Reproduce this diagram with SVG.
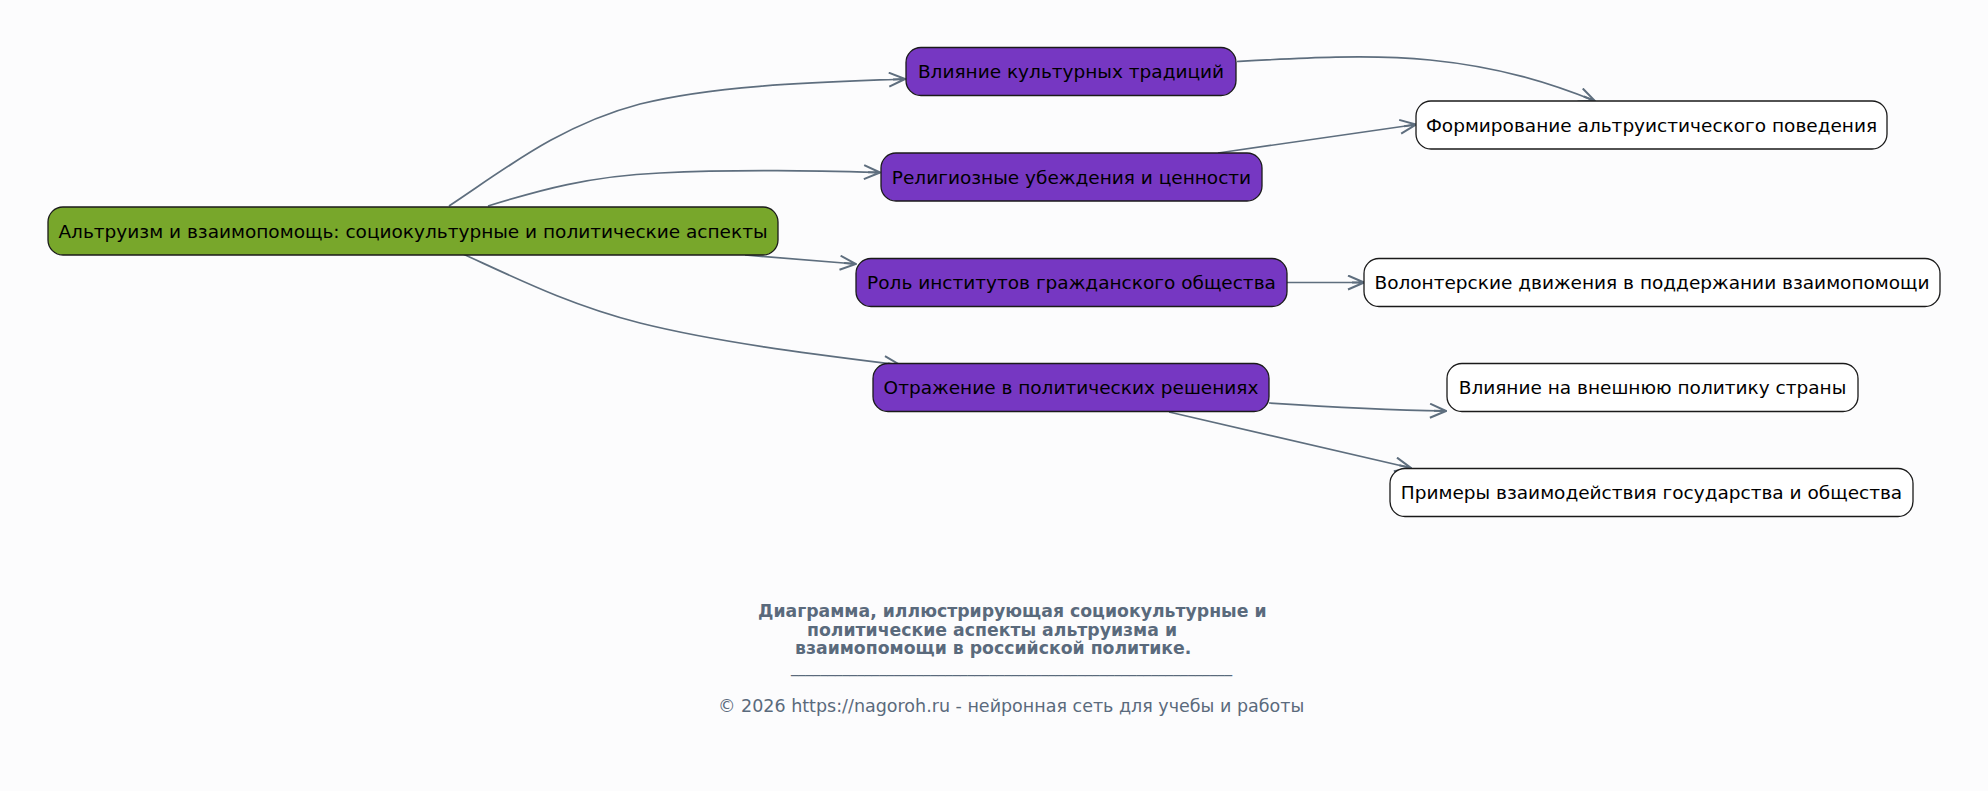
<svg xmlns="http://www.w3.org/2000/svg" width="1988" height="791" viewBox="0 0 1988 791">
<defs>
<style>
.n text{font-family:"DejaVu Sans",sans-serif;font-size:18.5px;fill:#000;text-anchor:middle;dominant-baseline:central}
.root rect{fill:#78a72b;stroke:#1a1a1a;stroke-width:1.3}
.mid rect{fill:#7637c2;stroke:#1a1a1a;stroke-width:1.3}
.leaf rect{fill:#fff;stroke:#1a1a1a;stroke-width:1.3}
.e path{fill:none;stroke:#5e6e7e;stroke-width:1.7;marker-end:url(#ah)}
.ft{font-family:"DejaVu Sans",sans-serif;fill:#5a6a7c}
</style>
<marker id="ah" viewBox="0 0 18 16" refX="17" refY="8" markerWidth="18" markerHeight="16" markerUnits="userSpaceOnUse" orient="auto">
<path d="M1,1 L17,8 L1,15 M17,8 L5,8" fill="none" stroke="#5e6e7e" stroke-width="2"/>
</marker>
</defs>
<rect width="1988" height="791" fill="#fcfcfd"/>
<g class="e" id="connectors">
<path d="M449,206 C505,169 560,125 640,104 C720,84 830,82 905,79"/>
<path d="M488,206 C540,190 590,176 660,173 C740,169 820,171 880,172.5"/>
<path d="M745,255 L856,264"/>
<path d="M463,254 C520,280 570,305 640,323 C720,343 820,355 900,365"/>
<path d="M1237,61.5 C1300,58 1370,54 1430,60 C1500,67 1550,83 1595,101"/>
<path d="M1218,153 L1416,124.5"/>
<path d="M1287,282.5 L1364,282.5"/>
<path d="M1269,403 C1330,407 1390,410 1446,411"/>
<path d="M1169,412 L1411,468"/>
</g>
<g class="n root" id="root"><rect x="48" y="207" width="730" height="48" rx="15"/><text x="413" y="231">Альтруизм и взаимопомощь: социокультурные и политические аспекты</text></g>
<g class="n mid" id="n1"><rect x="906" y="47.5" width="330" height="48" rx="15"/><text x="1071" y="71.5">Влияние культурных традиций</text></g>
<g class="n mid" id="n2"><rect x="881" y="153" width="381" height="48" rx="15"/><text x="1071.5" y="177">Религиозные убеждения и ценности</text></g>
<g class="n mid" id="n3"><rect x="856" y="258.5" width="431" height="48" rx="15"/><text x="1071.5" y="282.5">Роль институтов гражданского общества</text></g>
<g class="n mid" id="n4"><rect x="873" y="363.5" width="396" height="48" rx="15"/><text x="1071" y="387.5">Отражение в политических решениях</text></g>
<g class="n leaf" id="l1"><rect x="1416" y="101" width="471" height="48" rx="15"/><text x="1651.5" y="125">Формирование альтруистического поведения</text></g>
<g class="n leaf" id="l2"><rect x="1364" y="258.5" width="576" height="48" rx="15"/><text x="1652" y="282.5">Волонтерские движения в поддержании взаимопомощи</text></g>
<g class="n leaf" id="l3"><rect x="1447" y="363.5" width="411" height="48" rx="15"/><text x="1652.5" y="387.5">Влияние на внешнюю политику страны</text></g>
<g class="n leaf" id="l4"><rect x="1390" y="468.5" width="523" height="48" rx="15"/><text x="1651.5" y="492.5">Примеры взаимодействия государства и общества</text></g>
<g id="footer">
<text class="ft" font-weight="bold" font-size="17.3" x="758" y="617">Диаграмма, иллюстрирующая социокультурные и</text>
<text class="ft" font-weight="bold" font-size="17.3" x="807" y="635.5">политические аспекты альтруизма и</text>
<text class="ft" font-weight="bold" font-size="17.3" x="795" y="654">взаимопомощи в российской политике.</text>
<text class="ft" font-size="17.3" x="791" y="672" textLength="441" lengthAdjust="spacingAndGlyphs">____________________________________________________________</text>
<text class="ft" font-size="17.5" x="718" y="712">© 2026 https://nagoroh.ru - нейронная сеть для учебы и работы</text>
</g>
</svg>
